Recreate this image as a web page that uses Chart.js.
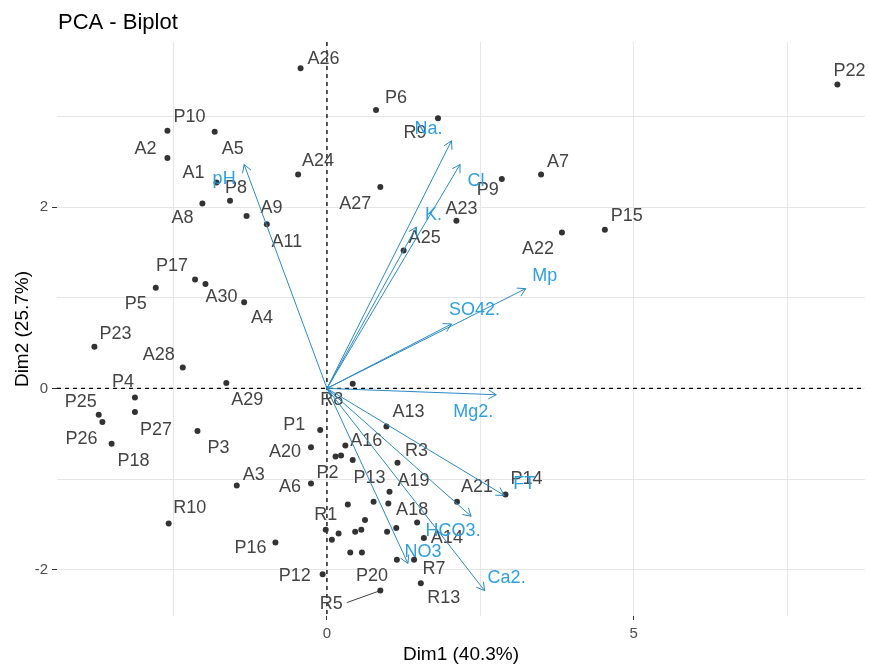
<!DOCTYPE html>
<html>
<head>
<meta charset="utf-8">
<title>PCA - Biplot</title>
<script src="https://cdn.jsdelivr.net/npm/chart.js@4.4.1/dist/chart.umd.min.js"></script>
<style>
  html, body { margin: 0; padding: 0; background: #fff; }
  #wrap { width: 869px; height: 668px; }
</style>
</head>
<body>
<div id="wrap"><canvas id="biplot" width="869" height="668"></canvas></div>
<script>
// Individuals: scores on Dim1 / Dim2 ('' = point without a label)
const obsNames = [
  'A26', 'P6', 'R9', 'P10', 'A2', 'A5', 'A24', 'A27', 'A1', 'P8',
  'A8', 'A9', 'A11', 'A7', 'P9', 'A23', 'A22', 'P15', 'P22', 'A25',
  'P17', 'A30', 'P5', 'A4', 'P23', 'A28', 'A29', 'R8', 'P4', 'P27',
  'P25', 'P26', 'P18', 'P3', 'P1', 'A13', 'A20', 'A16', 'P2', 'R3',
  'A3', 'A6', 'A19', 'P13', 'A21', 'P14', 'R10', 'A18', 'R1', 'A14',
  'P16', 'R7', 'P12', 'R13', 'R5', 'P20',
  '', '', '', '', '', '', '', '', '', '', '', '', ''
];
const obsDim1 = [
  -0.43, 0.80, 1.81, -2.60, -2.60, -1.83, -0.47, 0.87, -1.80, -1.58,
  -2.03, -1.31, -0.98, 3.49, 2.85, 2.11, 3.83, 4.53, 8.32, 1.25,
  -2.15, -1.98, -2.79, -1.35, -3.79, -2.35, -1.64, 0.42, -3.13, -3.13,
  -3.72, -3.66, -3.51, -2.11, -0.11, 0.97, -0.26, 0.30, 0.14, 1.15,
  -1.47, -0.26, 1.02, 0.76, 2.12, 2.91, -2.58, 1.47, -0.02, 1.58,
  -0.84, 1.42, -0.07, 1.53, 0.87, 0.57,
  0.23, 0.42, 0.34, 1.00, 0.62, 0.19, 0.46, 0.56, 0.98, 1.13, 0.08, 0.38, 1.14
];
const obsDim2 = [
  3.53, 3.07, 2.98, 2.84, 2.54, 2.83, 2.36, 2.22, 2.27, 2.07,
  2.04, 1.90, 1.81, 2.36, 2.31, 1.85, 1.72, 1.75, 3.35, 1.52,
  1.20, 1.15, 1.11, 0.95, 0.46, 0.23, 0.06, 0.05, -0.10, -0.26,
  -0.29, -0.37, -0.61, -0.47, -0.46, -0.42, -0.65, -0.63, -0.75, -0.82,
  -1.07, -1.05, -1.14, -1.25, -1.25, -1.17, -1.49, -1.48, -1.56, -1.65,
  -1.70, -1.89, -2.05, -2.15, -2.23, -1.81,
  -0.74, -0.79, -1.28, -1.27, -1.45, -1.60, -1.58, -1.56, -1.58, -1.54, -1.67, -1.81, -1.89
];

// Variables: arrow tips on Dim1 / Dim2
const varNames = ['pH', 'Na.', 'Cl', 'K.', 'SO42.', 'Mp', 'Mg2.', 'FT', 'HCO3.', 'NO3', 'Ca2.'];
const varDim1 = [-1.35, 2.03, 2.17, 1.46, 2.03, 3.24, 2.76, 2.89, 2.35, 1.32, 2.57];
const varDim2 = [2.47, 2.73, 2.47, 1.78, 0.71, 1.10, -0.07, -1.18, -1.41, -1.93, -2.23];

// Axis breaks
const xGridValues = [-2.5, 0, 2.5, 5, 7.5];
const xTickLabels = [0, 5];
const yGridValues = [-2, -1, 0, 1, 2, 3];
const yTickLabels = [-2, 0, 2];

// Label placement (pixels from the point, like the repelled labels)
const obsLabelOffset = {
  A26: [23, -9], P6: [20, -12], R9: [-23, 15], P10: [22, -14], A2: [-22, -9],
  A5: [18, 17], A24: [20, -13], A27: [-25, 17], A1: [-23, -10], P8: [6, -13],
  A8: [-20, 15], A9: [25, -8], A11: [20, 18], A7: [17, -12], P9: [-14, 11],
  A23: [5, -12], A22: [-24, 17], P15: [22, -14], P22: [12, -14], A25: [21, -13],
  P17: [-23, -14], A30: [16, 13], P5: [-20, 16], A4: [18, 16], P23: [21, -13],
  A28: [-24, -13], A29: [21, 17], R8: [-21, 16], P4: [-12, -15], P27: [21, 18],
  P25: [-18, -13], P26: [-21, 17], P18: [22, 17], P3: [21, 17], P1: [-26, -5],
  A13: [22, -14], A20: [-26, 5], A16: [21, -4], P2: [-8, 17], R3: [19, -12],
  A3: [17, -10], A6: [-21, 3], A19: [24, -11], P13: [-4, -24], A21: [20, -15],
  P14: [21, -15], R10: [21, -15], A18: [-5, -13], R1: [0, -15], A14: [23, 0],
  P16: [-25, 5], R7: [20, 9], P12: [-28, 2], R13: [23, 15], R5: [-49, 13],
  P20: [10, 24]
};
const leaderLines = ['R5'];
const varLabelOffset = {
  'pH': [-20, 15], 'Na.': [-23, -12], 'Cl': [16, 17], 'K.': [17, -12],
  'SO42.': [23, -14], 'Mp': [19, -13], 'Mg2.': [-23, 17], 'FT': [20, -11],
  'HCO3.': [-18, 15], 'NO3': [15, -11], 'Ca2.': [22, -13]
};

const FONT = '"Liberation Sans", Arial, sans-serif';
const VAR_COLOR = '#2E9FDF';
const ARROW_COLOR = '#2a8ac6';

Chart.defaults.font.family = FONT;

const biplotDecor = {
  id: 'biplotDecor',
  beforeDatasetsDraw(chart) {
    const { ctx, chartArea: a, scales: { x, y } } = chart;
    const x0 = x.getPixelForValue(0);
    const y0 = y.getPixelForValue(0);
    ctx.save();
    // dashed reference lines through the origin
    ctx.strokeStyle = '#000';
    ctx.lineWidth = 1.3;
    ctx.setLineDash([4, 4]);
    ctx.beginPath();
    ctx.moveTo(x0, a.top); ctx.lineTo(x0, a.bottom);
    ctx.moveTo(a.left, y0); ctx.lineTo(a.right, y0);
    ctx.stroke();
    ctx.setLineDash([]);

    // individual labels
    ctx.font = '18px ' + FONT;
    ctx.fillStyle = '#444';
    ctx.textAlign = 'center';
    ctx.textBaseline = 'middle';
    obsNames.forEach((name, i) => {
      const off = obsLabelOffset[name];
      if (!name || !off) return;
      const px = x.getPixelForValue(obsDim1[i]);
      const py = y.getPixelForValue(obsDim2[i]);
      const lx = px + off[0], ly = py + off[1];
      ctx.fillText(name, lx, ly);
      if (leaderLines.includes(name)) {
        const w = ctx.measureText(name).width;
        ctx.strokeStyle = '#444';
        ctx.lineWidth = 1;
        ctx.beginPath();
        ctx.moveTo(lx + w / 2 + 4, ly - 1);
        ctx.lineTo(px, py);
        ctx.stroke();
      }
    });
    ctx.restore();
  },
  afterDatasetsDraw(chart) {
    const { ctx, scales: { x, y } } = chart;
    const ox = x.getPixelForValue(0), oy = y.getPixelForValue(0);
    ctx.save();
    // open arrow heads
    ctx.strokeStyle = ARROW_COLOR;
    ctx.lineWidth = 1;
    const len = 9, spread = Math.PI / 6;
    varNames.forEach((name, i) => {
      const tx = x.getPixelForValue(varDim1[i]);
      const ty = y.getPixelForValue(varDim2[i]);
      const ang = Math.atan2(ty - oy, tx - ox);
      ctx.beginPath();
      ctx.moveTo(tx - len * Math.cos(ang - spread), ty - len * Math.sin(ang - spread));
      ctx.lineTo(tx, ty);
      ctx.lineTo(tx - len * Math.cos(ang + spread), ty - len * Math.sin(ang + spread));
      ctx.stroke();
    });
    // variable labels
    ctx.font = '18px ' + FONT;
    ctx.fillStyle = VAR_COLOR;
    ctx.textAlign = 'center';
    ctx.textBaseline = 'middle';
    varNames.forEach((name, i) => {
      const off = varLabelOffset[name] || [0, 0];
      ctx.fillText(name, x.getPixelForValue(varDim1[i]) + off[0], y.getPixelForValue(varDim2[i]) + off[1]);
    });
    ctx.restore();
  },
  afterDraw(chart) {
    const { ctx } = chart;
    ctx.save();
    ctx.font = '22px ' + FONT;
    ctx.fillStyle = '#000';
    ctx.textAlign = 'left';
    ctx.textBaseline = 'alphabetic';
    ctx.fillText('PCA - Biplot', 58, 29);
    ctx.restore();
  }
};

const pointData = obsDim1.map((v, i) => ({ x: v, y: obsDim2[i] }));
const arrowSets = varNames.map((name, i) => ({
  label: name,
  type: 'scatter',
  showLine: true,
  data: [{ x: 0, y: 0 }, { x: varDim1[i], y: varDim2[i] }],
  borderColor: ARROW_COLOR,
  borderWidth: 1,
  pointRadius: 0,
  order: 1
}));

const ctx = document.getElementById('biplot').getContext('2d');
const biplot = new Chart(ctx, {
  type: 'scatter',
  data: {
    datasets: [{
      label: 'Individuals',
      data: pointData,
      backgroundColor: '#333',
      borderWidth: 0,
      pointRadius: 3,
      order: 2
    }, ...arrowSets]
  },
  options: {
    responsive: false,
    animation: false,
    devicePixelRatio: 1,
    layout: { padding: { top: 42, right: 3, left: 0, bottom: 0 } },
    plugins: {
      legend: { display: false },
      tooltip: { enabled: false }
    },
    scales: {
      x: {
        type: 'linear',
        min: -4.40,
        max: 8.77,
        afterBuildTicks: (scale) => { scale.ticks = xGridValues.map(v => ({ value: v })); },
        afterFit: (scale) => { scale.height = 52; },
        ticks: {
          color: '#4d4d4d',
          font: { size: 15 },
          padding: 5,
          maxRotation: 0,
          autoSkip: false,
          callback: (v) => xTickLabels.includes(v) ? String(v) : ''
        },
        grid: {
          color: '#e6e6e6',
          lineWidth: 1,
          tickLength: 4,
          tickColor: (c) => xTickLabels.includes(c.tick && c.tick.value) ? '#333' : 'rgba(0,0,0,0)'
        },
        border: { display: false },
        title: {
          display: true,
          text: 'Dim1 (40.3%)',
          color: '#000',
          font: { size: 19 },
          padding: { top: 0, bottom: 2 }
        }
      },
      y: {
        type: 'linear',
        min: -2.51,
        max: 3.82,
        afterBuildTicks: (scale) => { scale.ticks = yGridValues.map(v => ({ value: v })); },
        afterFit: (scale) => { scale.width = 57; },
        ticks: {
          color: '#4d4d4d',
          font: { size: 15 },
          padding: 4,
          autoSkip: false,
          callback: (v) => yTickLabels.includes(v) ? String(v) : ''
        },
        grid: {
          color: '#e6e6e6',
          lineWidth: 1,
          tickLength: 5,
          tickColor: (c) => yTickLabels.includes(c.tick && c.tick.value) ? '#333' : 'rgba(0,0,0,0)'
        },
        border: { display: false },
        title: {
          display: true,
          text: 'Dim2 (25.7%)',
          color: '#000',
          font: { size: 19 },
          padding: { top: 11, bottom: 0 }
        }
      }
    }
  },
  plugins: [biplotDecor]
});
</script>
</body>
</html>
